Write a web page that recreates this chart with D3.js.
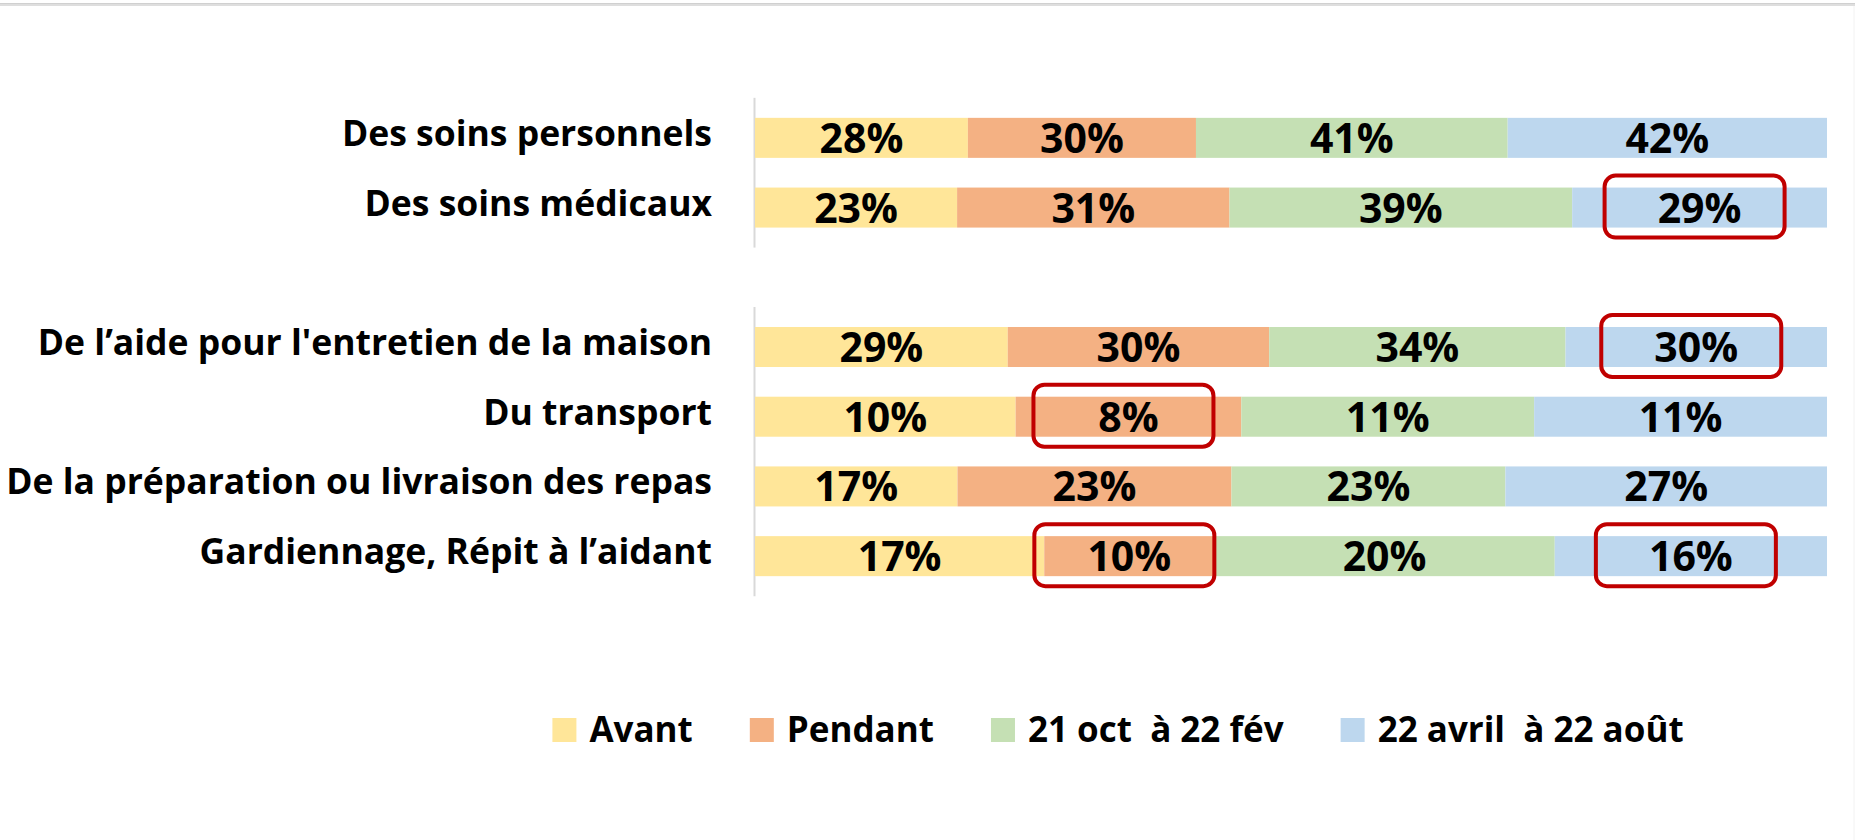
<!DOCTYPE html>
<html>
<head>
<meta charset="utf-8">
<script src="https://cdn.jsdelivr.net/npm/d3@7"></script>
<style>
  html, body { margin: 0; padding: 0; background: #fff; }
  svg { display: block; }
</style>
</head>
<body>
<svg id="chart" width="1855" height="840"></svg>
<script>
// ---- data ----
const groupA = ["Des soins personnels", "Des soins médicaux"];
const groupB = ["De l’aide pour l'entretien de la maison", "Du transport",
                "De la préparation ou livraison des repas", "Gardiennage, Répit à l’aidant"];
const categories = [...groupA, ...groupB];

const seriesNames = ["Avant", "Pendant", "21 oct  à 22 fév", "22 avril  à 22 août"];
const avant   = [28, 23, 29, 9.7, 17, 17];
const pendant = [30, 31, 30, 8.4, 23, 10];
const octFev  = [41, 39, 34, 10.9, 23, 20];
const avrAout = [42, 29, 30, 10.9, 27, 16];
const seriesColors = ["#FFE699", "#F4B183", "#C5E0B4", "#BDD7EE"];

// highlighted cells: [category index, series index]
const highlights = [[1, 3], [2, 3], [3, 1], [5, 1], [5, 3]];

// ---- layout ----
const svg = d3.select("#chart");
const FONT = "'Open Sans', 'DejaVu Sans', sans-serif";
const x0 = 755, x1 = 1827;

// top frame line and faint right border
svg.append("rect").attr("x", 0).attr("y", 3).attr("width", 1855).attr("height", 3).attr("fill", "#dedede");
svg.append("rect").attr("x", 0).attr("y", 3).attr("width", 1855).attr("height", 1).attr("fill", "#d0d0d0");
svg.append("line").attr("x1", 1854).attr("x2", 1854).attr("y1", 6).attr("y2", 840)
  .attr("stroke", "#f2f2f2").attr("stroke-width", 1);

const yDomain = [...groupA, "", ...groupB];
const y = d3.scaleBand().domain(yDomain).range([103, 591]).paddingInner(0.426).paddingOuter(0.213);
const bw = y.bandwidth();

const rows = categories.map((c, i) => {
  const vals = [avant[i], pendant[i], octFev[i], avrAout[i]];
  const total = d3.sum(vals);
  const obj = { cat: c, total };
  vals.forEach((v, k) => obj["s" + k] = v / total);
  obj.raw = vals;
  return obj;
});
const keys = ["s0", "s1", "s2", "s3"];
const stacked = d3.stack().keys(keys)(rows);

const x = d3.scaleLinear().domain([0, 1]).range([x0, x1]);

// axis lines per group
[groupA, groupB].forEach(g => {
  svg.append("line")
    .attr("x1", x0 - 0.5).attr("x2", x0 - 0.5)
    .attr("y1", y(g[0]) - bw * 0.5)
    .attr("y2", y(g[g.length - 1]) + bw * 1.5)
    .attr("stroke", "#d9d9d9").attr("stroke-width", 2);
});

// bars
const layers = svg.append("g").selectAll("g").data(stacked).join("g")
  .attr("fill", (d, i) => seriesColors[i]);
layers.selectAll("rect").data(d => d).join("rect")
  .attr("x", d => x(d[0]))
  .attr("width", d => x(d[1]) - x(d[0]))
  .attr("y", d => y(d.data.cat))
  .attr("height", bw);

// value labels
layers.each(function(layer, k) {
  d3.select(this).selectAll("text").data(layer).join("text")
    .attr("x", d => (x(d[0]) + x(d[1])) / 2)
    .attr("y", d => y(d.data.cat) + bw / 2 + 15)
    .attr("text-anchor", "middle")
    .attr("fill", "#000")
    .attr("font-family", FONT).attr("font-weight", 700).attr("font-size", 41)
    .text(d => Math.round(d.data.raw[k]) + "%");
});

// category labels
svg.append("g").selectAll("text").data(categories).join("text")
  .attr("x", 712)
  .attr("y", d => y(d) + bw / 2 + 8)
  .attr("text-anchor", "end")
  .attr("fill", "#000")
  .attr("font-family", FONT).attr("font-weight", 700).attr("font-size", 35.5)
  .text(d => d);

// highlight boxes
svg.append("g").selectAll("rect").data(highlights).join("rect")
  .attr("x", d => { const s = stacked[d[1]][d[0]]; return (x(s[0]) + x(s[1])) / 2 - 95; })
  .attr("y", d => y(categories[d[0]]) + bw / 2 - 32)
  .attr("width", 180).attr("height", 62)
  .attr("rx", 11).attr("ry", 11)
  .attr("fill", "none").attr("stroke", "#C00000").attr("stroke-width", 4);

// legend
const lg = svg.append("g");
const items = lg.selectAll("g").data(seriesNames).join("g");
items.append("rect").attr("width", 24).attr("height", 24).attr("y", -24)
  .attr("fill", (d, i) => seriesColors[i]);
items.append("text").attr("x", 37).attr("y", 0)
  .attr("font-family", FONT).attr("font-weight", 700).attr("font-size", 35)
  .attr("fill", "#000").style("white-space", "pre")
  .text(d => d);
let cx = 0;
const widths = [];
items.each(function() { widths.push(d3.select(this).select("text").node().getComputedTextLength()); });
const totalW = d3.sum(widths.map(w => 37 + w)) + 57 * (widths.length - 1);
const startX = 1118 - totalW / 2;
items.attr("transform", (d, i) => {
  const tx = startX + cx;
  cx += 37 + widths[i] + 57;
  return `translate(${tx},742)`;
});
</script>
</body>
</html>
